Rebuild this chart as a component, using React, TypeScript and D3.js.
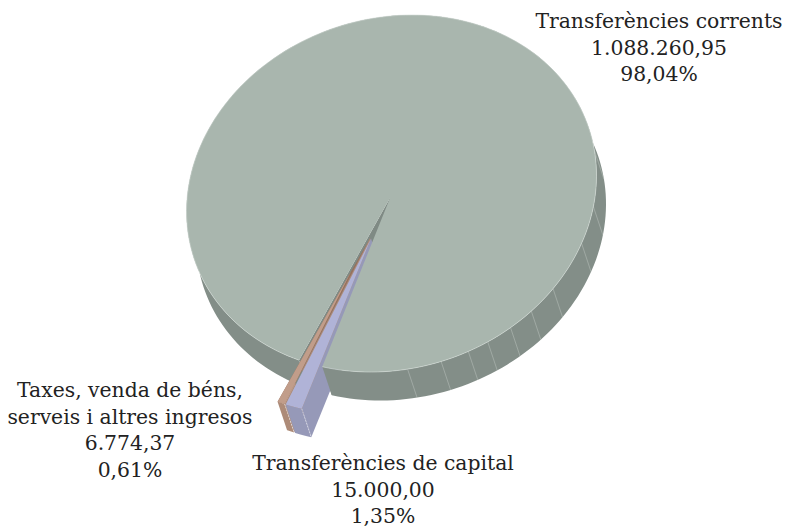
import React from "react";
import * as d3 from "d3";

const categories = ["Transferències corrents", "Transferències de capital", "Taxes, venda de béns, serveis i altres ingresos"];
const values = [1088260.95, 15000.0, 6774.37];
const topColors = ["#a9b6ae", "#b0b3d7", "#c19d8a"];
const sideColors = ["#838e88", "#9699b8", "#ad8b78"];
const tipColors = ["#a9b6ae", "#b0b3d7", "#98705c"];
const explodeX = [0, -20.5, -21.5];
const explodeY = [0, 42, 41.5];
const dividerDegrees = [175.5, 166, 158, 152, 144.5, 137, 128, 112, 100, 82];
const labelLines = [
  ["Transferències corrents", "1.088.260,95", "98,04%"],
  ["Transferències de capital", "15.000,00", "1,35%"],
  ["Taxes, venda de béns,", "serveis i altres ingresos", "6.774,37", "0,61%"],
];
const labelX = [659, 383, 130];
const labelY = [28, 470, 397];

const W = 789, H = 528;
const cx = 391.5, cy = 193.5, rx = 205, ry = 177.6, shear = -18;
const depthX = 9.5, depthY = 28.5;
const mainApexX = 390, mainApexY = 198;
const rad = (d: number) => (d * Math.PI) / 180;

const pie = d3.pie<number>().sort(null).startAngle(rad(206.8)).endAngle(rad(206.8 + 360));
const slices = pie(values);

const project = (a: number, i: number, down = false): [number, number] => [
  cx + explodeX[i] + rx * Math.sin(a) + (down ? depthX : 0),
  cy + explodeY[i] + shear * Math.sin(a) - ry * Math.cos(a) + (down ? depthY : 0),
];
const apex = (i: number, down = false): [number, number] =>
  i === 0
    ? [mainApexX + (down ? depthX : 0), mainApexY + (down ? depthY : 0)]
    : [cx + explodeX[i] + (down ? depthX : 0), cy + explodeY[i] + 3 + (down ? depthY : 0)];
const line = d3.line<[number, number]>();
const arcAngles = (a0: number, a1: number) => d3.range(0, 201).map((k) => a0 + ((a1 - a0) * k) / 200);
const topPath = (i: number, tip: [number, number] = apex(i)) => {
  const s = slices[i];
  return line([tip, ...arcAngles(s.startAngle, s.endAngle).map((a) => project(a, i))]) + "Z";
};
const bandPath = (i: number) => {
  const s = slices[i];
  const as = arcAngles(s.startAngle, s.endAngle);
  return line([...as.map((a) => project(a, i)), ...as.slice().reverse().map((a) => project(a, i, true))]) + "Z";
};
const cutPath = (i: number, a: number) =>
  line([apex(i), project(a, i), project(a, i, true), apex(i, true)]) + "Z";
const edge = (i: number, a: number) => line([project(a, i), project(a, i, true)]) ?? "";
// the lighter top of the thin slice starts part-way along its outer edge
const insetTip = (i: number, t: number): [number, number] => {
  const p = apex(i);
  const q = project(slices[i].endAngle, i);
  return [p[0] + (q[0] - p[0]) * t, p[1] + (q[1] - p[1]) * t];
};

const font = "'DejaVu Serif', 'Liberation Serif', serif";

export default function App() {
  return (
    <svg width={W} height={H} style={{ position: "absolute", left: 0, top: 0, background: "#fff" }}>
      {/* cut walls of the main slice, seen through the gap */}
      <path d={cutPath(0, slices[0].startAngle)} fill="#7f8a84" />
      <path d={cutPath(0, slices[0].endAngle)} fill="#7f8a84" />
      {/* exploded slices: side walls */}
      {[2, 1].map((i) => (
        <g key={i}>
          <path d={cutPath(i, slices[i].startAngle)} fill={sideColors[i]} />
          <path d={bandPath(i)} fill={sideColors[i]} />
          <path d={edge(i, slices[i].startAngle)} stroke="#eeeef4" strokeOpacity={0.85} strokeWidth={0.7} strokeDasharray="2 1" />
        </g>
      ))}
      {/* main slice */}
      <path d={bandPath(0)} fill={sideColors[0]} />
      {dividerDegrees.map((d) => (
        <path key={d} d={edge(0, rad(d))} stroke="#c8d0cb" strokeOpacity={0.7} strokeWidth={0.6} />
      ))}
      <path d={topPath(0)} fill={topColors[0]} />
      <path
        d={line(arcAngles(slices[0].startAngle, slices[0].endAngle).map((a) => project(a, 0))) ?? ""}
        fill="none"
        stroke="#d4dbd6"
        strokeWidth={0.6}
      />
      {/* exploded slices: top faces */}
      <path d={topPath(2)} fill={tipColors[2]} />
      <path d={topPath(2, insetTip(2, 0.2))} fill={topColors[2]} />
      <path d={topPath(1)} fill={topColors[1]} />
      {labelLines.map((lines, i) => (
        <text key={categories[i]} fontFamily={font} fontSize={20.35} fill="#222" textAnchor="middle">
          {lines.map((t, k) => (
            <tspan key={k} x={labelX[i]} y={labelY[i] + k * 26.5}>
              {t}
            </tspan>
          ))}
        </text>
      ))}
    </svg>
  );
}
